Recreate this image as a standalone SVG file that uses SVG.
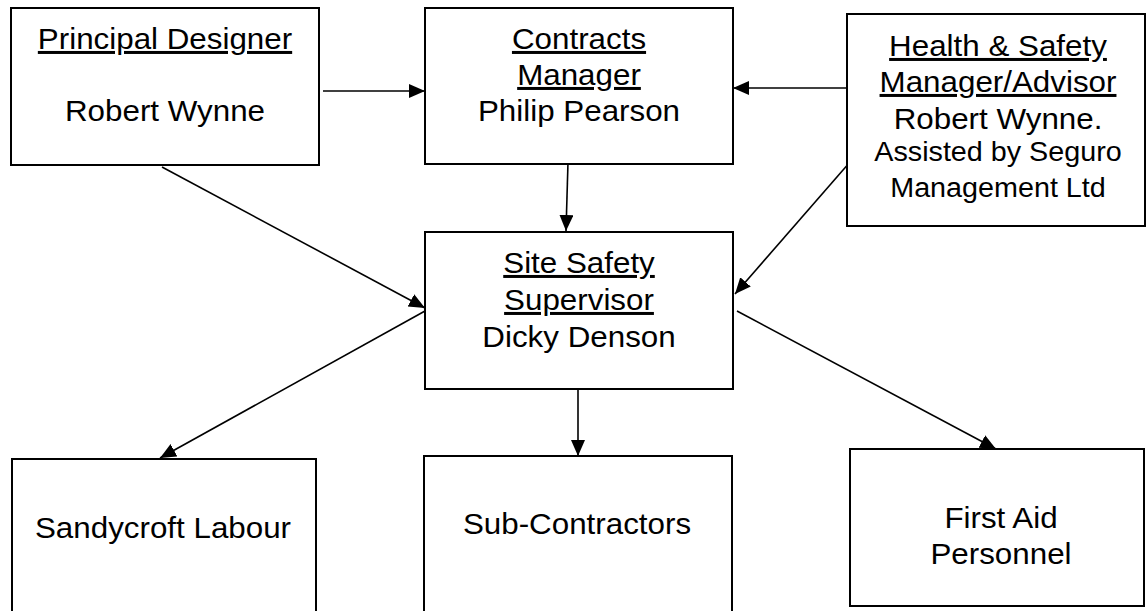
<svg xmlns="http://www.w3.org/2000/svg" width="1146" height="611" viewBox="0 0 1146 611">
<defs>
<marker id="ah" markerUnits="userSpaceOnUse" markerWidth="18" markerHeight="15" refX="16" refY="7" orient="auto">
<path d="M0,0 L16,7 L0,14 Z" fill="#000"/>
</marker>
<style>
.box{fill:#fff;stroke:#000;stroke-width:2}
.t{font-family:"Liberation Sans",Arial,sans-serif;font-size:30px;fill:#000;text-anchor:middle}
.s{font-size:27.5px}
.u{text-decoration:underline}
.c{stroke:#000;stroke-width:1.6;fill:none;marker-end:url(#ah)}
</style>
</defs>
<rect width="1146" height="611" fill="#fff"/>
<g id="connectors">
<line class="c" x1="323" y1="91" x2="425" y2="91"/>
<line class="c" x1="847" y1="88" x2="733" y2="88"/>
<line class="c" x1="568" y1="162" x2="566" y2="231"/>
<line class="c" x1="162" y1="167" x2="425" y2="308"/>
<line class="c" x1="850" y1="162" x2="735" y2="294"/>
<line class="c" x1="425" y1="311" x2="160" y2="458"/>
<line class="c" x1="578" y1="390" x2="578" y2="456"/>
<line class="c" x1="737" y1="311" x2="996" y2="449"/>
</g>
<g id="principal-designer">
<rect class="box" x="11" y="8" width="308" height="157"/>
<text class="t u" transform="translate(165,49) scale(1.045,1)">Principal Designer</text>
<text class="t" transform="translate(165,121) scale(1.045,1)">Robert Wynne</text>
</g>
<g id="contracts-manager">
<rect class="box" x="425" y="8" width="308" height="156"/>
<text class="t u" transform="translate(579,49) scale(1.045,1)">Contracts</text>
<text class="t u" transform="translate(579,85) scale(1.045,1)">Manager</text>
<text class="t" transform="translate(579,121) scale(1.045,1)">Philip Pearson</text>
</g>
<g id="health-safety-manager">
<rect class="box" x="847" y="14" width="298" height="212"/>
<text class="t u" transform="translate(998,56) scale(1.045,1)">Health &amp; Safety</text>
<text class="t u" transform="translate(998,92) scale(1.045,1)">Manager/Advisor</text>
<text class="t" transform="translate(998,129) scale(1.045,1)">Robert Wynne.</text>
<text class="t s" transform="translate(998,161) scale(1.045,1)">Assisted by Seguro</text>
<text class="t s" transform="translate(998,197) scale(1.045,1)">Management Ltd</text>
</g>
<g id="site-safety-supervisor">
<rect class="box" x="425" y="232" width="308" height="157"/>
<text class="t u" transform="translate(579,273) scale(1.045,1)">Site Safety</text>
<text class="t u" transform="translate(579,310) scale(1.045,1)">Supervisor</text>
<text class="t" transform="translate(579,347) scale(1.045,1)">Dicky Denson</text>
</g>
<g id="sandycroft-labour">
<rect class="box" x="12" y="459" width="304" height="170"/>
<text class="t" transform="translate(163,538) scale(1.045,1)">Sandycroft Labour</text>
</g>
<g id="sub-contractors">
<rect class="box" x="424" y="456" width="308" height="170"/>
<text class="t" transform="translate(577,534) scale(1.045,1)">Sub-Contractors</text>
</g>
<g id="first-aid-personnel">
<rect class="box" x="850" y="449" width="294" height="157"/>
<text class="t" transform="translate(1001,528) scale(1.045,1)">First Aid</text>
<text class="t" transform="translate(1001,564) scale(1.045,1)">Personnel</text>
</g>
</svg>
